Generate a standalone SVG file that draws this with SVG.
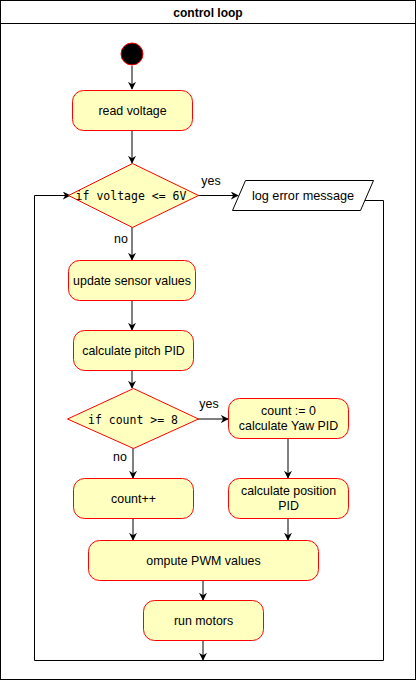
<svg xmlns="http://www.w3.org/2000/svg" width="417" height="681" viewBox="0 0 417 681">
<defs>
<marker id="arr" viewBox="0 0 10 10" refX="9" refY="5" markerWidth="8" markerHeight="8" markerUnits="userSpaceOnUse" orient="auto">
<path d="M0,0 L10,5 L0,10 L3,5 Z" fill="#000"/>
</marker>
<style>
.box{fill:#ffffc0;stroke:#ff0000;stroke-width:1}
.t{font-family:"Liberation Sans",Arial,sans-serif;font-size:12.4px;fill:#000;text-anchor:middle;dominant-baseline:central}
.m{font-family:"DejaVu Sans Mono","Liberation Mono",monospace;font-size:11.5px;fill:#000;text-anchor:middle;dominant-baseline:central}
.c{fill:none;stroke:#000;stroke-width:1}
.a{marker-end:url(#arr)}
</style>
</defs>
<rect width="417" height="681" fill="#fff"/>
<g id="frame">
<rect x="0.5" y="0.5" width="415" height="679" fill="#fff" stroke="#000"/>
<line x1="0.5" y1="23.5" x2="415.5" y2="23.5" stroke="#000"/>
<text class="t" x="208" y="13" style="font-weight:bold;font-size:12px">control loop</text>
</g>
<g id="connectors">
<line class="c a" x1="132" y1="66" x2="132" y2="89"/>
<line class="c a" x1="132" y1="130" x2="132" y2="163"/>
<line class="c a" x1="198" y1="195.5" x2="238" y2="195.5"/>
<text class="t" x="211" y="181">yes</text>
<line class="c a" x1="132" y1="227" x2="132" y2="260"/>
<text class="t" x="121" y="239">no</text>
<line class="c a" x1="132" y1="300" x2="132" y2="330"/>
<line class="c a" x1="132" y1="370" x2="132" y2="388"/>
<line class="c a" x1="198" y1="419" x2="228" y2="419"/>
<text class="t" x="209" y="404">yes</text>
<line class="c a" x1="133" y1="448" x2="133" y2="478"/>
<text class="t" x="120" y="457">no</text>
<line class="c a" x1="288" y1="438" x2="288" y2="478"/>
<line class="c a" x1="133" y1="518" x2="133" y2="540"/>
<line class="c a" x1="288" y1="518" x2="288" y2="540"/>
<line class="c a" x1="203" y1="580" x2="203" y2="600"/>
<line class="c a" x1="203" y1="640" x2="203" y2="660"/>
<polyline class="c" points="360,200.5 383.5,200.5 383.5,660.5 34.5,660.5 34.5,195.5 60,195.5"/>
<line class="c a" x1="59" y1="195.5" x2="70" y2="195.5"/>
</g>
<g id="start"><circle cx="132" cy="54" r="11" fill="#000" stroke="#ff0000"/></g>
<g id="read-voltage"><rect class="box" x="72.5" y="90.5" width="120" height="40" rx="11"/><text class="t" x="132.5" y="110.5">read voltage</text></g>
<g id="voltage-check"><polygon class="box" points="132.5,163.5 198.5,195.5 132.5,227.5 68.5,195.5"/><text class="m" x="131" y="196">if voltage &lt;= 6V</text></g>
<g id="log-error"><polygon points="245.5,180.5 373.5,180.5 360.5,210.5 232.5,210.5" fill="#fff" stroke="#000"/><text class="t" x="303" y="195.5" style="font-size:12.7px">log error message</text></g>
<g id="update-sensor"><rect class="box" x="68.5" y="260.5" width="127" height="40" rx="11"/><text class="t" x="132" y="280.5">update sensor values</text></g>
<g id="pitch-pid"><rect class="box" x="73.5" y="330.5" width="120" height="40" rx="11"/><text class="t" x="133.5" y="350.5">calculate pitch PID</text></g>
<g id="count-check"><polygon class="box" points="133.5,388.5 198.5,419 133.5,448.5 67.5,419"/><text class="m" x="133" y="419.5">if count &gt;= 8</text></g>
<g id="yaw-pid"><rect class="box" x="228.5" y="398.5" width="120" height="40" rx="11"/><text class="t" x="288.5" y="411">count := 0</text><text class="t" x="288.5" y="426">calculate Yaw PID</text></g>
<g id="count-inc"><rect class="box" x="73.5" y="478.5" width="120" height="40" rx="11"/><text class="t" x="133.5" y="498.5">count++</text></g>
<g id="position-pid"><rect class="box" x="228.5" y="478.5" width="120" height="40" rx="11"/><text class="t" x="288.5" y="491">calculate position</text><text class="t" x="288.5" y="506">PID</text></g>
<g id="compute-pwm"><rect class="box" x="88.5" y="540.5" width="230" height="40" rx="11"/><text class="t" x="203.5" y="560.5">ompute PWM values</text></g>
<g id="run-motors"><rect class="box" x="143.5" y="600.5" width="120" height="40" rx="11"/><text class="t" x="203.5" y="620.5">run motors</text></g>
</svg>
